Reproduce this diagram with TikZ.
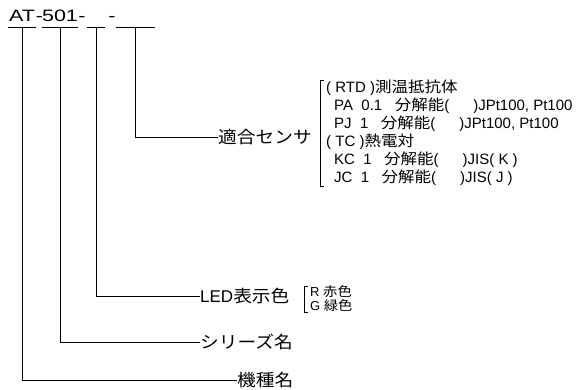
\documentclass[tikz,border=0pt]{standalone}
\usepackage{fontspec}
\setmainfont{Liberation Sans}
\newfontfamily\codefont[FakeStretch=1.3]{Liberation Sans}
\newfontfamily\jpfont[FakeStretch=1.1]{Noto Sans CJK JP}
\newcommand\ja[1]{{\jpfont #1}}
\usetikzlibrary{calc}

\begin{document}
\begin{tikzpicture}
      [x=1pt,y=-1pt
      ,code/.style={inner sep=0,anchor=base,text depth=5pt,font=\codefont\fontsize{16.5}{17}\selectfont}
      ,hyph/.style={inner sep=0,anchor=base,font=\codefont\fontsize{16.5}{17}\selectfont}
      ,lbl/.style={inner sep=0,anchor=west,font=\fontsize{17}{17}\selectfont}
      ,lst/.style={inner sep=0,anchor=west,align=left}
      ,lin/.style={line width=.8pt}]
        \useasboundingbox (0,0) rectangle (582,390);
        % model code
        \node[code,minimum width=28] (mdl) at (22,22) {AT};
        \node[hyph] (h1) at (39.5,22) {-};
        \node[code,minimum width=34] (ser) at (60,22) {501};
        \node[hyph] (h2) at (82,22) {-};
        \node[code,minimum width=18] (col) at (96,22) {};
        \node[hyph] (h3) at (112,22) {-};
        \node[code,minimum width=39] (sns) at (135.5,22) {};
        \foreach \n in {mdl,ser,col,sns}{
          \draw[lin] (\n.south west) -- (\n.south east);
        }
        % labels
        \node[lbl] (kishu)  at (237,380) {\ja{機種名}};
        \node[lbl] (series) at (200,342) {\ja{シリーズ名}};
        \node[lbl] (ledc)   at (200,296) {LED\ja{表示色}};
        \node[lbl] (sensor) at (218,137) {\ja{適合センサ}};
        \draw[lin] (mdl.south) |- (kishu.west);
        \draw[lin] (ser.south) |- (series.west);
        \draw[lin] (col.south) |- (ledc.west);
        \draw[lin] (sns.south) |- (sensor.west);
        % options
        \node[lst,font=\fontsize{13}{14}\selectfont] (ledl) at (310,299)
          {R \ja{赤色}\\G \ja{緑色}};
        \draw ($(ledl.north west)+(-2,0)$) -- ++(-4,0) |- ($(ledl.south west)+(-2,0)$);
        \node[lst,font=\fontsize{15}{18}\selectfont] (snsl) at (326,133)
          {( RTD )\ja{測温抵抗体}\\
           \hspace*{8pt}PA\ \ 0.1\ \ \ \ja{分解能}(\hspace{24pt})JPt100, Pt100\\
           \hspace*{8pt}PJ\ \ 1\ \ \ \ja{分解能}(\hspace{24pt})JPt100, Pt100\\
           ( TC )\ja{熱電対}\\
           \hspace*{8pt}KC\ \ 1\ \ \ \ja{分解能}(\hspace{24pt})JIS( K )\\
           \hspace*{8pt}JC\ \ 1\ \ \ \ja{分解能}(\hspace{24pt})JIS( J )};
        \draw ($(snsl.north west)+(-2,0)$) -- ++(-4,0) |- ($(snsl.south west)+(-2,0)$);
      \end{tikzpicture}
\end{document}
